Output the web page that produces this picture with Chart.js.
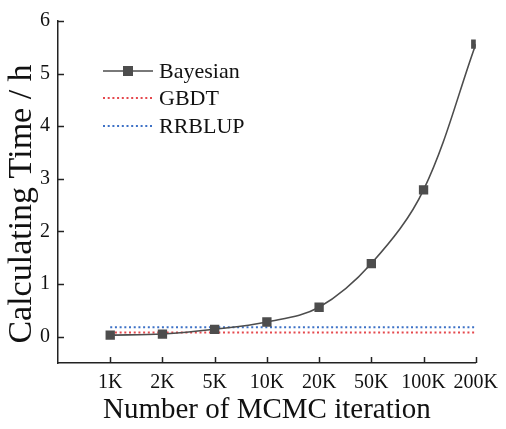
<!DOCTYPE html>
<html>
<head>
<meta charset="utf-8">
<script src="https://cdn.jsdelivr.net/npm/chart.js@4/dist/chart.umd.min.js"></script>
<style>
  html, body { margin: 0; padding: 0; background: #fff; }
  #wrap { width: 506px; height: 429px; }
</style>
</head>
<body>
<div id="wrap"><canvas id="c" width="506" height="429"></canvas></div>
<script>
// MCMC iteration counts (categories) and computing times in hours
const iterations = ['1K', '2K', '5K', '10K', '20K', '50K', '100K', '200K'];
const bayesianHours = [0.03, 0.05, 0.14, 0.28, 0.56, 1.39, 2.79, 5.56];
const gbdtHours = [0.08, 0.08, 0.08, 0.08, 0.08, 0.08, 0.08, 0.08];
const rrblupHours = [0.18, 0.18, 0.18, 0.18, 0.18, 0.18, 0.18, 0.18];
const yTickValues = [0, 1, 2, 3, 4, 5, 6];
const yTitle = 'Calculating Time / h';

const serif = '"Liberation Serif", "Times New Roman", serif';
const toPoints = arr => arr.map((v, i) => ({ x: i + 1, y: v }));

// Ticks drawn inward from the axis lines
const innerTicks = {
  id: 'innerTicks',
  afterDraw(chart) {
    const { ctx, chartArea, scales } = chart;
    ctx.save();
    ctx.strokeStyle = '#222';
    ctx.lineWidth = 1.5;
    const len = 6;
    scales.x.ticks.forEach(t => {
      const px = Math.round(scales.x.getPixelForValue(t.value)) + 0.5;
      ctx.beginPath();
      ctx.moveTo(px, chartArea.bottom);
      ctx.lineTo(px, chartArea.bottom - len);
      ctx.stroke();
    });
    scales.y.ticks.forEach(t => {
      const py = Math.round(scales.y.getPixelForValue(t.value)) + 0.5;
      ctx.beginPath();
      ctx.moveTo(chartArea.left, py);
      ctx.lineTo(chartArea.left + len, py);
      ctx.stroke();
    });
    ctx.restore();
  }
};

// Rotated y-axis title, centred a little below the middle of the axis
const sideTitle = {
  id: 'sideTitle',
  afterDraw(chart) {
    const { ctx } = chart;
    ctx.save();
    ctx.translate(22, 204);
    ctx.rotate(-Math.PI / 2);
    ctx.font = '34px ' + serif;
    ctx.fillStyle = '#111';
    ctx.textAlign = 'center';
    ctx.textBaseline = 'middle';
    ctx.fillText(yTitle, 0, 0);
    ctx.restore();
  }
};

// Legend placed inside the plot, upper left
const insideLegend = {
  id: 'insideLegend',
  afterDraw(chart) {
    const { ctx } = chart;
    const x0 = 103, x1 = 153, textX = 159;
    const rows = [71, 98, 126];
    ctx.save();
    ctx.font = '22px ' + serif;
    ctx.textBaseline = 'middle';
    chart.data.datasets.forEach((ds, i) => {
      const y = rows[i];
      ctx.strokeStyle = ds.borderColor;
      ctx.lineWidth = ds.borderWidth;
      ctx.setLineDash(ds.borderDash || []);
      ctx.beginPath();
      ctx.moveTo(x0, y);
      ctx.lineTo(x1, y);
      ctx.stroke();
      ctx.setLineDash([]);
      if (ds.pointRadius > 0) {
        const half = 5;
        ctx.fillStyle = ds.pointBackgroundColor;
        ctx.fillRect((x0 + x1) / 2 - half, y - half, 2 * half, 2 * half);
      }
      ctx.fillStyle = '#111';
      ctx.fillText(ds.label, textX, y + 1);
    });
    ctx.restore();
  }
};

new Chart(document.getElementById('c'), {
  type: 'line',
  data: {
    datasets: [
      {
        label: 'Bayesian',
        data: toPoints(bayesianHours),
        borderColor: '#4d4d4d',
        borderWidth: 1.6,
        pointStyle: 'rect',
        pointRadius: 6.6,
        pointBackgroundColor: '#4d4d4d',
        pointBorderWidth: 0,
        tension: 0.35,
        order: 0
      },
      {
        label: 'GBDT',
        data: toPoints(gbdtHours),
        borderColor: '#e5484d',
        borderWidth: 2,
        borderDash: [2, 2.7],
        pointRadius: 0,
        order: 1
      },
      {
        label: 'RRBLUP',
        data: toPoints(rrblupHours),
        borderColor: '#3d71c6',
        borderWidth: 2,
        borderDash: [2, 2.7],
        pointRadius: 0,
        order: 2
      }
    ]
  },
  options: {
    responsive: false,
    animation: false,
    layout: { padding: { top: 21, right: 26, left: 0, bottom: 0 } },
    plugins: { legend: { display: false }, tooltip: { enabled: false } },
    scales: {
      x: {
        type: 'linear',
        min: 0,
        max: 8,
        grid: { display: false, drawTicks: false },
        border: { display: true, color: '#222', width: 1.5 },
        afterBuildTicks: s => { s.ticks = iterations.map((_, i) => ({ value: i + 1 })); },
        afterFit: s => { s.height = 66; },
        ticks: {
          padding: 8,
          color: '#111',
          font: { family: serif, size: 20 },
          callback: v => iterations[v - 1]
        },
        title: {
          display: true,
          text: 'Number of MCMC iteration',
          color: '#111',
          font: { family: serif, size: 29 },
          padding: { top: 0, bottom: 1 }
        }
      },
      y: {
        min: -0.5,
        max: 6,
        grid: { display: false, drawTicks: false },
        border: { display: true, color: '#222', width: 1.5 },
        afterBuildTicks: s => { s.ticks = yTickValues.map(v => ({ value: v })); },
        afterFit: s => { s.width = 58; },
        ticks: {
          padding: 8,
          color: '#111',
          font: { family: serif, size: 20 }
        }
      }
    }
  },
  plugins: [innerTicks, sideTitle, insideLegend]
});
</script>
</body>
</html>
